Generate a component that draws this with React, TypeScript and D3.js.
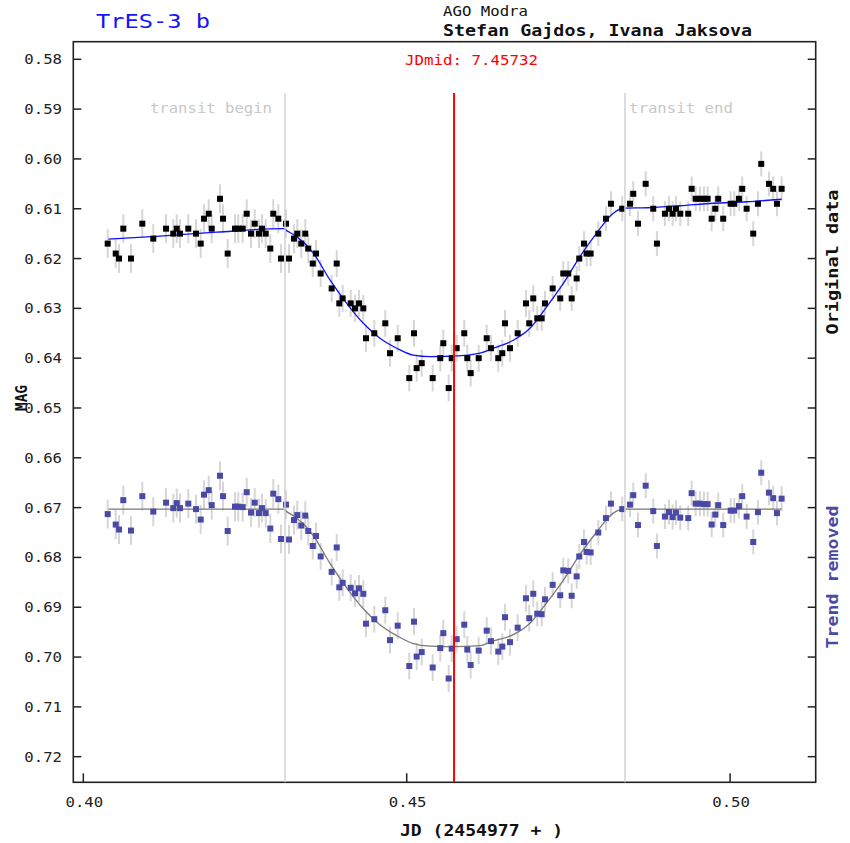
import React from 'react';
import * as d3 from 'd3';

const W = 850;
const H = 843;

// JD - 2454977
const jd = [
  0.40377,0.40501,0.40552,0.40618,0.40737,0.40912,0.41082,0.41279,0.41391,0.41444,
  0.41495,0.41623,0.41742,0.41815,0.41866,0.41939,0.41985,0.42113,0.42160,0.42232,
  0.42345,0.42396,0.42464,0.42526,0.42593,0.42650,0.42716,0.42763,0.42820,0.42891,
  0.42937,0.43015,0.43056,0.43134,0.43180,0.43257,0.43308,0.43370,0.43432,0.43478,
  0.43547,0.43598,0.43670,0.43840,0.43918,0.43958,0.44010,0.44134,0.44201,0.44262,
  0.44329,0.44371,0.44499,0.44669,0.44742,0.44861,0.45040,0.45113,0.45154,0.45232,
  0.45402,0.45519,0.45566,0.45649,0.45696,0.45773,0.45890,0.45937,0.45989,0.46113,
  0.46237,0.46303,0.46416,0.46478,0.46520,0.46597,0.46716,0.46844,0.46895,0.46957,
  0.47019,0.47087,0.47138,0.47257,0.47374,0.47421,0.47498,0.47551,0.47628,0.47668,
  0.47741,0.47783,0.47844,0.47962,0.48081,0.48158,0.48333,0.48452,0.48503,0.48576,
  0.48695,0.48812,0.48869,0.48993,0.49055,0.49112,0.49163,0.49230,0.49353,0.49406,
  0.49468,0.49534,0.49596,0.49653,0.49715,0.49771,0.49817,0.49894,0.50009,0.50065,
  0.50137,0.50188,0.50256,0.50358,0.50431,0.50482,0.50601,0.50667,0.50725,0.50797,
];

const magOriginal = [
  0.617,0.619,0.620,0.614,0.620,0.613,0.616,0.614,0.615,0.614,
  0.615,0.614,0.615,0.617,0.612,0.611,0.614,0.608,0.612,0.619,
  0.614,0.614,0.614,0.611,0.615,0.613,0.615,0.614,0.615,0.618,
  0.611,0.612,0.620,0.613,0.620,0.616,0.615,0.617,0.615,0.618,
  0.621,0.619,0.623,0.626,0.621,0.629,0.628,0.629,0.630,0.629,
  0.630,0.636,0.635,0.633,0.639,0.636,0.644,0.635,0.642,0.641,
  0.644,0.640,0.637,0.646,0.640,0.638,0.635,0.640,0.643,0.640,
  0.636,0.638,0.640,0.639,0.633,0.638,0.635,0.629,0.633,0.628,
  0.632,0.632,0.629,0.626,0.628,0.623,0.623,0.628,0.624,0.620,
  0.617,0.619,0.619,0.615,0.612,0.609,0.610,0.609,0.607,0.613,
  0.605,0.610,0.617,0.611,0.610,0.611,0.610,0.611,0.611,0.606,
  0.608,0.608,0.608,0.608,0.612,0.610,0.608,0.612,0.609,0.609,
  0.608,0.606,0.610,0.615,0.609,0.601,0.605,0.606,0.609,0.606,
];

const magDetrended = [
  0.6713,0.6734,0.6744,0.6685,0.6746,0.6677,0.6708,0.6690,0.6701,0.6691,
  0.6701,0.6692,0.6703,0.6724,0.6674,0.6665,0.6695,0.6636,0.6677,0.6747,
  0.6698,0.6698,0.6699,0.6669,0.6710,0.6690,0.6711,0.6701,0.6711,0.6742,
  0.6672,0.6683,0.6763,0.6694,0.6764,0.6725,0.6715,0.6736,0.6716,0.6747,
  0.6777,0.6757,0.6798,0.6829,0.6780,0.6860,0.6851,0.6861,0.6872,0.6862,
  0.6873,0.6933,0.6924,0.6906,0.6966,0.6937,0.7018,0.6929,0.6999,0.6990,
  0.7021,0.6982,0.6952,0.7043,0.6983,0.6964,0.6935,0.6985,0.7016,0.6987,
  0.6947,0.6968,0.6989,0.6979,0.6920,0.6970,0.6941,0.6882,0.6922,0.6873,
  0.6913,0.6914,0.6884,0.6855,0.6876,0.6826,0.6827,0.6877,0.6838,0.6798,
  0.6769,0.6789,0.6790,0.6750,0.6721,0.6692,0.6703,0.6694,0.6675,0.6735,
  0.6656,0.6707,0.6777,0.6718,0.6709,0.6719,0.6710,0.6720,0.6721,0.6671,
  0.6692,0.6692,0.6693,0.6693,0.6734,0.6714,0.6695,0.6735,0.6706,0.6706,
  0.6697,0.6677,0.6718,0.6769,0.6709,0.6630,0.6670,0.6681,0.6711,0.6682,
];

// error bar half-lengths by time block
const errBreaks = [0.435, 0.470];
const errValues = [0.0029, 0.0027, 0.0025];

// fitted model curves
const fitJd = [
  0.40387,0.41186,0.42063,0.43092,0.43144,0.43299,0.43556,0.43814,0.44072,0.44329,
  0.44587,0.44845,0.45102,0.45360,0.45720,0.46133,0.46339,0.46648,0.46906,0.47164,
  0.47421,0.47679,0.47937,0.48194,0.48348,0.48710,0.49225,0.49740,0.50256,0.50797,
];
const fitOriginal = [
  0.6161,0.6155,0.6147,0.6140,0.6144,0.6156,0.6189,0.6243,0.6290,0.6330,
  0.6360,0.6380,0.6394,0.6397,0.6396,0.6390,0.6380,0.6364,0.6340,0.6297,
  0.6250,0.6196,0.6149,0.6109,0.6099,0.6098,0.6094,0.6089,0.6086,0.6081,
];
const fitDetrended = [
  0.6703,0.6703,0.6703,0.6703,0.6708,0.6721,0.6756,0.6812,0.6861,0.6903,
  0.6935,0.6957,0.6973,0.6978,0.6979,0.6977,0.6968,0.6955,0.6932,0.6891,
  0.6846,0.6794,0.6749,0.6711,0.6703,0.6703,0.6703,0.6703,0.6703,0.6703,
];

const yTicks = [0.58,0.59,0.60,0.61,0.62,0.63,0.64,0.65,0.66,0.67,0.68,0.69,0.70,0.71,0.72];
const xTicks = [0.40, 0.45, 0.50];

const transitBegin = 0.43118;
const transitEnd = 0.48375;
const jdMid = 0.45732;

const FONT = '"DejaVu Sans Mono", "Liberation Mono", monospace';
const PURPLE = '#4a4aa6';

export default function App() {
  const x = d3.scaleLinear().domain([0.39845, 0.51324]).range([73.3, 815.7]);
  const y = d3.scaleLinear().domain([0.57647, 0.72514]).range([41.7, 782.3]);
  const [x0, x1] = x.range();
  const [y0, y1] = y.range();

  const errFor = (t: number) => {
    const i = d3.bisectRight(errBreaks, t);
    return errValues[i];
  };

  const fitIdx = d3.range(fitJd.length);
  const lineTop = d3
    .line<number>()
    .x((i) => x(fitJd[i]))
    .y((i) => y(fitOriginal[i]))
    .curve(d3.curveMonotoneX);
  const lineBot = d3
    .line<number>()
    .x((i) => x(fitJd[i]))
    .y((i) => y(fitDetrended[i]))
    .curve(d3.curveMonotoneX);

  const vTop = 93;
  const ms = 6;

  return (
    <svg
      width={W}
      height={H}
      style={{ position: 'absolute', left: 0, top: 0, background: '#fff' }}
      fontFamily={FONT}
    >
      <rect x={0} y={0} width={W} height={H} fill="#fff" />

      {/* header texts */}
      <text x={96} y={21} fill="#1414ff" fontSize={19} dominantBaseline="central" textLength={114} lengthAdjust="spacingAndGlyphs">TrES-3 b</text>
      <text x={443} y={11} fill="#111" fontSize={14} dominantBaseline="central" textLength={85} lengthAdjust="spacingAndGlyphs">AGO Modra</text>
      <text x={443} y={31} fill="#111" fontSize={15} fontWeight="bold" dominantBaseline="central" textLength={309} lengthAdjust="spacingAndGlyphs">Stefan Gajdos, Ivana Jaksova</text>

      {/* error bars */}
      {jd.map((t, i) => {
        const e = errFor(t);
        return (
          <g key={'e' + i} stroke="#d6d6d6" strokeWidth={2}>
            <line x1={x(t)} x2={x(t)} y1={y(magOriginal[i] - e)} y2={y(magOriginal[i] + e)} />
            <line x1={x(t)} x2={x(t)} y1={y(magDetrended[i] - e)} y2={y(magDetrended[i] + e)} />
          </g>
        );
      })}

      {/* fits */}
      <path d={lineTop(fitIdx) || ''} fill="none" stroke="#1010ff" strokeWidth={1.3} />
      <path d={lineBot(fitIdx) || ''} fill="none" stroke="#7a7a7a" strokeWidth={1.3} />

      {/* markers */}
      {jd.map((t, i) => (
        <g key={'m' + i}>
          <rect x={x(t) - ms / 2} y={y(magOriginal[i]) - ms / 2} width={ms} height={ms} fill="#000" />
          <rect x={x(t) - ms / 2} y={y(magDetrended[i]) - ms / 2} width={ms} height={ms} fill={PURPLE} />
        </g>
      ))}

      {/* frame */}
      <rect x={x0} y={y0} width={x1 - x0} height={y1 - y0} fill="none" stroke="#222" strokeWidth={1.6} />

      {/* y ticks */}
      {yTicks.map((v) => (
        <g key={'yt' + v}>
          <line x1={x0} x2={x0 + 8} y1={y(v)} y2={y(v)} stroke="#222" strokeWidth={1.5} />
          <line x1={x1 - 8} x2={x1} y1={y(v)} y2={y(v)} stroke="#222" strokeWidth={1.5} />
          <text x={62} y={y(v)} textAnchor="end" fontSize={14} fill="#222" dominantBaseline="central" textLength={37.7} lengthAdjust="spacingAndGlyphs">
            {v.toFixed(2)}
          </text>
        </g>
      ))}

      {/* x ticks */}
      {xTicks.map((v) => (
        <g key={'xt' + v}>
          <line x1={x(v)} x2={x(v)} y1={y1} y2={y1 - 9} stroke="#222" strokeWidth={1.5} />
          <text x={x(v) + 1} y={802} textAnchor="middle" fontSize={14} fill="#222" dominantBaseline="central" textLength={37.7} lengthAdjust="spacingAndGlyphs">
            {v.toFixed(2)}
          </text>
        </g>
      ))}

      {/* transit lines */}
      <line x1={x(transitBegin)} x2={x(transitBegin)} y1={vTop} y2={y1} stroke="#d2d2d2" strokeWidth={1.5} />
      <line x1={x(transitEnd)} x2={x(transitEnd)} y1={vTop} y2={y1} stroke="#d2d2d2" strokeWidth={1.5} />
      <line x1={x(jdMid)} x2={x(jdMid)} y1={vTop} y2={y1} stroke="#ff0000" strokeWidth={2} />

      <text x={x(transitBegin) - 13} y={108} textAnchor="end" fill="#c8c8c8" fontSize={14} dominantBaseline="central" textLength={122} lengthAdjust="spacingAndGlyphs">transit begin</text>
      <text x={x(transitEnd) + 4} y={108} fill="#c8c8c8" fontSize={14} dominantBaseline="central" textLength={104} lengthAdjust="spacingAndGlyphs">transit end</text>
      <text x={405} y={60} fill="#ff0000" fontSize={14} dominantBaseline="central" textLength={133} lengthAdjust="spacingAndGlyphs">JDmid: 7.45732</text>

      {/* axis titles */}
      <text x={400} y={831} fill="#111" fontSize={15} fontWeight="bold" dominantBaseline="central" textLength={163} lengthAdjust="spacingAndGlyphs">JD (2454977 + )</text>
      <text transform="translate(22,398) rotate(-90)" textAnchor="middle" fill="#111" fontSize={15} fontWeight="bold" dominantBaseline="central" textLength={26} lengthAdjust="spacingAndGlyphs">MAG</text>
      <text transform="translate(833,262) rotate(-90)" textAnchor="middle" fill="#111" fontSize={15} fontWeight="bold" dominantBaseline="central" textLength={145} lengthAdjust="spacingAndGlyphs">Original data</text>
      <text transform="translate(833,577) rotate(-90)" textAnchor="middle" fill={PURPLE} fontSize={15} fontWeight="bold" dominantBaseline="central" textLength={143} lengthAdjust="spacingAndGlyphs">Trend removed</text>
    </svg>
  );
}
